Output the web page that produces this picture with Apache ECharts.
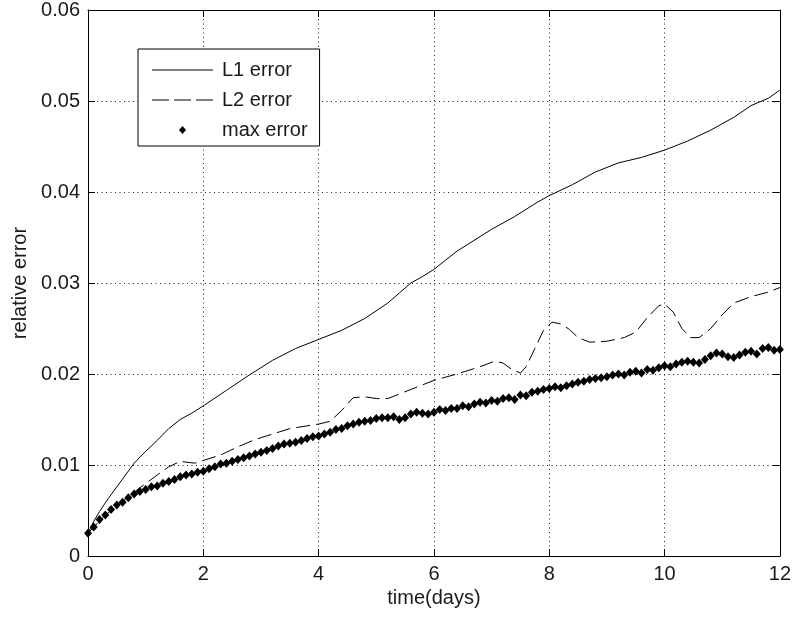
<!DOCTYPE html>
<html>
<head>
<meta charset="utf-8">
<script src="https://cdn.jsdelivr.net/npm/echarts@6/dist/echarts.min.js"></script>
<style>
html,body{margin:0;padding:0;background:#fff;}
#chart{width:794px;height:621px;}
</style>
</head>
<body>
<div id="chart"></div>
<script>
// ---- data ----
const seriesNames = ['L1 error', 'L2 error', 'max error'];
const xTicks = [0, 2, 4, 6, 8, 10, 12];
const yTicks = [0, 0.01, 0.02, 0.03, 0.04, 0.05, 0.06];

const l1Time = [0, 0.1, 0.2, 0.35, 0.5, 0.65, 0.8, 1.0, 1.2, 1.4, 1.6, 1.8, 2.0, 2.4, 2.8, 3.2, 3.6, 4.0, 4.4, 4.8, 5.2, 5.6, 5.8, 6.0, 6.2, 6.4, 6.6, 6.8, 7.0, 7.4, 7.8, 8.0, 8.4, 8.8, 9.2, 9.6, 10.0, 10.4, 10.8, 11.2, 11.5, 11.8, 12.0];
const l1Err  = [0.0025, 0.0038, 0.0049, 0.0063, 0.0076, 0.0089, 0.0102, 0.0115, 0.0127, 0.0140, 0.0150, 0.0157, 0.0165, 0.0182, 0.0199, 0.0215, 0.0228, 0.0238, 0.0248, 0.0261, 0.0278, 0.0300, 0.0307, 0.0315, 0.0325, 0.0335, 0.0343, 0.0351, 0.0359, 0.0373, 0.0389, 0.0396, 0.0408, 0.0422, 0.0432, 0.0438, 0.0446, 0.0456, 0.0468, 0.0482, 0.0495, 0.0503, 0.0512];

const l2Time = [0, 0.3, 0.6, 0.9, 1.2, 1.4, 1.6, 1.85, 2.0, 2.3, 2.6, 2.9, 3.2, 3.5, 3.8, 4.0, 4.2, 4.4, 4.6, 4.8, 5.0, 5.2, 5.4, 5.6, 5.8, 6.0, 6.4, 6.8, 7.05, 7.2, 7.35, 7.5, 7.6, 7.75, 7.9, 8.05, 8.2, 8.35, 8.5, 8.7, 9.0, 9.3, 9.5, 9.7, 9.9, 10.0, 10.15, 10.3, 10.45, 10.6, 10.8, 11.0, 11.2, 11.5, 11.8, 12.0];
const l2Err  = [0.0025, 0.0045, 0.0060, 0.0075, 0.0089, 0.0098, 0.0104, 0.0102, 0.0105, 0.0111, 0.0120, 0.0128, 0.0134, 0.0140, 0.0143, 0.0145, 0.0148, 0.0160, 0.0174, 0.0175, 0.0173, 0.0173, 0.0178, 0.0183, 0.0188, 0.0193, 0.0200, 0.0208, 0.0214, 0.0212, 0.0205, 0.0201, 0.0208, 0.0228, 0.0248, 0.0257, 0.0255, 0.0249, 0.0240, 0.0235, 0.0236, 0.0240, 0.0246, 0.0262, 0.0275, 0.0277, 0.0268, 0.0250, 0.0240, 0.0240, 0.0250, 0.0265, 0.0278, 0.0285, 0.0290, 0.0295];

const maxStep = 0.1; // days between max-error samples
const maxErr = [
  0.0025, 0.0032, 0.0040, 0.0045, 0.0051, 0.0056, 0.0059, 0.0064, 0.0068, 0.0071,
  0.0073, 0.0076, 0.0077, 0.0080, 0.0082, 0.0084, 0.0087, 0.0089, 0.0090, 0.0092,
  0.0093, 0.0096, 0.0098, 0.0101, 0.0102, 0.0104, 0.0106, 0.0108, 0.0110, 0.0112,
  0.0114, 0.0116, 0.0118, 0.0121, 0.0123, 0.0124, 0.0125, 0.0127, 0.0129, 0.0131,
  0.0132, 0.0134, 0.0136, 0.0139, 0.0140, 0.0143, 0.0145, 0.0147, 0.0148, 0.0149,
  0.0151, 0.0152, 0.0152, 0.0153, 0.0150, 0.0152, 0.0156, 0.0158, 0.0157, 0.0156,
  0.0158, 0.0161, 0.0160, 0.0162, 0.0162, 0.0165, 0.0164, 0.0167, 0.0169, 0.0168,
  0.0171, 0.0170, 0.0173, 0.0174, 0.0172, 0.0177, 0.0176, 0.0180, 0.0181, 0.0183,
  0.0184, 0.0186, 0.0185, 0.0187, 0.0189, 0.0191, 0.0192, 0.0194, 0.0195, 0.0196,
  0.0197, 0.0199, 0.0200, 0.0199, 0.0202, 0.0203, 0.0201, 0.0205, 0.0204, 0.0207,
  0.0209, 0.0208, 0.0211, 0.0213, 0.0214, 0.0213, 0.0212, 0.0216, 0.0220, 0.0223,
  0.0222, 0.0219, 0.0218, 0.0221, 0.0224, 0.0225, 0.0222, 0.0228, 0.0229, 0.0226,
  0.0227
];

const xName = 'time(days)';
const yName = 'relative error';

// ---- build ----
const pairs = (xs, ys) => xs.map((x, i) => [x, ys[i]]);
const maxData = maxErr.map((v, i) => [+(i * maxStep).toFixed(2), v]);

const FONT = "'Liberation Sans', Arial, sans-serif";
const TXT = '#1a1a1a';

// legend icons (61 x 8 frame, degenerate corner points fix the bounding box)
const FRAME = 'M0,0L0,0Z M61,8L61,8Z ';
const iconSolid = 'path://' + FRAME + 'M0,3.5h61v1h-61z';
const iconDash = 'path://' + FRAME + 'M0,3.5h17v1h-17z M22,3.5h17v1h-17z M44,3.5h17v1h-17z';
const iconDiamond = 'path://' + FRAME + 'M30.5,0L34,4L30.5,8L27,4Z';

const chart = echarts.init(document.getElementById('chart'), null, {renderer: 'canvas'});

const fmtY = v => {
  const r = Math.round(v * 100) / 100;
  return r === 0 ? '0' : r.toFixed(2).replace(/0+$/, '').replace(/\.$/, '');
};

chart.setOption({
  backgroundColor: '#fff',
  animation: false,
  textStyle: {fontFamily: FONT},
  grid: {left: 88, right: 10, top: 8, bottom: 65, containLabel: false},
  legend: {
    orient: 'vertical',
    left: 138,
    top: 49,
    padding: [11, 12, 6, 14],
    itemGap: 10,
    itemWidth: 61,
    itemHeight: 8,
    backgroundColor: '#fff',
    borderColor: '#000',
    borderWidth: 1,
    borderRadius: 0,
    selectedMode: false,
    textStyle: {fontFamily: FONT, fontSize: 20, color: TXT, padding: [0, 0, 0, 4]},
    data: [
      {name: seriesNames[0], icon: iconSolid, itemStyle: {color: '#000'}},
      {name: seriesNames[1], icon: iconDash, itemStyle: {color: '#000'}},
      {name: seriesNames[2], icon: iconDiamond, itemStyle: {color: '#000'}}
    ]
  },
  xAxis: [
    {
      type: 'value', min: xTicks[0], max: xTicks[xTicks.length - 1], interval: xTicks[1] - xTicks[0],
      name: xName, nameLocation: 'middle', nameGap: 32,
      nameTextStyle: {fontFamily: FONT, fontSize: 20, color: TXT},
      axisLine: {show: true, onZero: false, lineStyle: {color: '#000', width: 1}},
      axisTick: {show: true, inside: true, length: 7, lineStyle: {color: '#000'}},
      axisLabel: {fontFamily: FONT, fontSize: 20, color: TXT, margin: 8},
      splitLine: {show: true, lineStyle: {color: '#222', width: 1, type: [1, 3.5]}}
    },
    {
      type: 'value', position: 'top', min: xTicks[0], max: xTicks[xTicks.length - 1], interval: xTicks[1] - xTicks[0],
      axisLine: {show: true, onZero: false, lineStyle: {color: '#000', width: 1}},
      axisTick: {show: true, inside: true, length: 7, lineStyle: {color: '#000'}},
      axisLabel: {show: false},
      splitLine: {show: false}
    }
  ],
  yAxis: [
    {
      type: 'value', min: yTicks[0], max: yTicks[yTicks.length - 1], interval: yTicks[1] - yTicks[0],
      name: yName, nameLocation: 'middle', nameGap: 58, nameRotate: 90,
      nameTextStyle: {fontFamily: FONT, fontSize: 20, color: TXT},
      axisLine: {show: true, onZero: false, lineStyle: {color: '#000', width: 1}},
      axisTick: {show: true, inside: true, length: 7, lineStyle: {color: '#000'}},
      axisLabel: {fontFamily: FONT, fontSize: 20, color: TXT, margin: 8, formatter: fmtY},
      splitLine: {show: true, lineStyle: {color: '#222', width: 1, type: [1, 3.5]}}
    },
    {
      type: 'value', position: 'right', min: yTicks[0], max: yTicks[yTicks.length - 1], interval: yTicks[1] - yTicks[0],
      axisLine: {show: true, onZero: false, lineStyle: {color: '#000', width: 1}},
      axisTick: {show: true, inside: true, length: 7, lineStyle: {color: '#000'}},
      axisLabel: {show: false},
      splitLine: {show: false}
    }
  ],
  series: [
    {
      name: seriesNames[0], type: 'line', xAxisIndex: 0, yAxisIndex: 0,
      data: pairs(l1Time, l1Err), symbol: 'none', smooth: false,
      itemStyle: {color: '#000'},
      lineStyle: {color: '#000', width: 1}, z: 3
    },
    {
      name: seriesNames[1], type: 'line', xAxisIndex: 0, yAxisIndex: 0,
      data: pairs(l2Time, l2Err), symbol: 'none', smooth: false,
      itemStyle: {color: '#000'},
      lineStyle: {color: '#000', width: 1, type: [14, 6]}, z: 3
    },
    {
      name: seriesNames[2], type: 'scatter', xAxisIndex: 0, yAxisIndex: 0,
      data: maxData, symbol: 'diamond', symbolSize: [8, 9],
      itemStyle: {color: '#000', opacity: 1}, z: 4
    }
  ]
});
</script>
</body>
</html>
